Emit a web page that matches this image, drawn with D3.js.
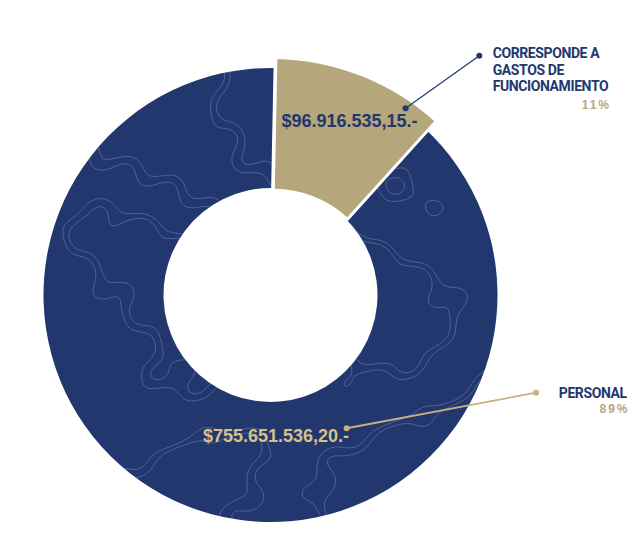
<!DOCTYPE html>
<html>
<head>
<meta charset="utf-8">
<script src="https://cdn.jsdelivr.net/npm/d3@7"></script>
<style>
  body { margin: 0; background: #fff; }
  svg { display: block; }
</style>
</head>
<body>
<div id="chart"></div>
<script>
// datos del presupuesto
var categories = ["Gastos de funcionamiento", "Personal"];
var legendLines = [["CORRESPONDE A", "GASTOS DE", "FUNCIONAMIENTO"], ["PERSONAL"]];
var amounts = [96916535.15, 755651536.20];

// layout
var width = 629, height = 541;
var cx = 270.5, cy = 295;
var rInner = 107, rOuter = 227;
var explode = {dx: 0.5, dy: 9, scale: 1.08};   // sector destacado
var rot = 1.15 * Math.PI / 180;
var fills = ["#b5a67b", "#22376e"];
var amountColor = ["#22376e", "#d6c088"];
var leaderColor = ["#22376e", "#c8b27c"];
var pctColor = "#b8a67c";
// posiciones en polares: fraccion del angulo del sector y radio
var amountPos = [{f: 0.557, r: 193.3}, {f: 0.4256, r: 146.8}];
var dotPos = [{f: 0.815, r: 237.6}, {f: 0.339, r: 153.5}];
var legendPos = [
  {x: 492.7, y: 58.3, anchor: "start", lx: 479.3, ly: 55.7, pctDy: 17.6},
  {x: 626.7, y: 398.3, anchor: "end", lx: 536, ly: 392.7, pctDy: 15}
];

var locale = d3.formatLocale({decimal: ",", thousands: ".", grouping: [3], currency: ["$", ""]});
var fmtAmount = function(v) { return locale.format("$,.2f")(v) + ".-"; };
var fmtPct = d3.format(".0%");
var total = d3.sum(amounts);

var svg = d3.select("#chart").append("svg")
    .attr("width", width)
    .attr("height", height);

var pie = d3.pie().sort(null).value(function(d) { return d; })
    .startAngle(rot).endAngle(rot + 2 * Math.PI);
var arcs = pie(amounts);

var arcNavy = d3.arc().innerRadius(rInner).outerRadius(rOuter).padAngle(0.012);
var arcTan = d3.arc()
    .innerRadius(rInner * explode.scale - 1.5)
    .outerRadius(rOuter * explode.scale + 1.5);

function centerOf(i) {
  return i === 0 ? [cx + explode.dx, cy + explode.dy] : [cx, cy];
}
function polar(d, p) {
  var a = d.startAngle + p.f * (d.endAngle - d.startAngle);
  var c = centerOf(d.index);
  return [c[0] + p.r * Math.sin(a), c[1] - p.r * Math.cos(a)];
}

// clip para la textura
svg.append("defs").append("clipPath").attr("id", "navyClip")
  .append("path")
    .attr("transform", "translate(" + cx + "," + cy + ")")
    .attr("d", arcNavy(arcs[1]));

// sector grande
svg.append("path")
    .attr("transform", "translate(" + cx + "," + cy + ")")
    .attr("d", arcNavy(arcs[1]))
    .attr("fill", fills[1]);

// textura decorativa (curvas de nivel), solo adorno
var cell = 3, gw = 215, gh = 185;
var field = new Array(gw * gh);
for (var j = 0; j < gh; j++) {
  for (var i = 0; i < gw; i++) {
    var x = i * cell, y = j * cell;
    field[j * gw + i] = Math.sin(x / 55 + 2.2 * Math.sin(y / 70))
      + 0.8 * Math.cos(y / 60 + 1.6 * Math.sin(x / 90))
      + 0.16 * Math.sin(x / 9 + y / 13) + 0.12 * Math.cos(y / 8 - x / 17);
  }
}
var contours = d3.contours().size([gw, gh]).thresholds([-1.0, -0.75, 0.85, 1.1])(field);
svg.append("g")
    .attr("clip-path", "url(#navyClip)")
  .selectAll("path")
  .data(contours)
  .join("path")
    .attr("d", d3.geoPath(d3.geoIdentity().scale(cell)))
    .attr("fill", "none")
    .attr("stroke", "#8593bb")
    .attr("stroke-opacity", 0.6)
    .attr("stroke-width", 0.8);

// sector destacado
svg.append("path")
    .attr("transform", "translate(" + centerOf(0)[0] + "," + centerOf(0)[1] + ")")
    .attr("d", arcTan(arcs[0]))
    .attr("fill", fills[0])
    .attr("stroke", "#fff")
    .attr("stroke-width", 3);

// montos
svg.selectAll(".amount")
  .data(arcs)
  .join("text")
    .attr("class", "amount")
    .attr("x", function(d) { return polar(d, amountPos[d.index])[0]; })
    .attr("y", function(d) { return polar(d, amountPos[d.index])[1]; })
    .attr("text-anchor", "middle")
    .attr("font-family", "Liberation Sans, Arial, sans-serif")
    .attr("font-weight", "bold")
    .attr("font-size", 18)
    .attr("fill", function(d) { return amountColor[d.index]; })
    .text(function(d) { return fmtAmount(d.value); });

// lineas guia y leyendas
arcs.forEach(function(d) {
  var p = polar(d, dotPos[d.index]);
  var L = legendPos[d.index];
  svg.append("line")
      .attr("x1", p[0]).attr("y1", p[1])
      .attr("x2", L.lx).attr("y2", L.ly)
      .attr("stroke", leaderColor[d.index])
      .attr("stroke-width", d.index === 0 ? 1.2 : 1.8);
  svg.append("circle").attr("cx", p[0]).attr("cy", p[1]).attr("r", 3)
      .attr("fill", leaderColor[d.index]);
  svg.append("circle").attr("cx", L.lx).attr("cy", L.ly).attr("r", 3)
      .attr("fill", leaderColor[d.index]);

  var g = svg.append("g");
  var t = g.append("text")
      .attr("font-family", "Roboto, sans-serif")
      .attr("font-weight", "bold")
      .attr("font-size", 14)
      .attr("letter-spacing", -0.4)
      .attr("fill", "#22376e")
      .attr("text-anchor", L.anchor);
  legendLines[d.index].forEach(function(s, k) {
    t.append("tspan").attr("x", L.x).attr("y", L.y + k * 16.3).text(s);
  });
  var bb = t.node().getBBox();
  g.append("text")
      .attr("x", bb.x + bb.width + 2)
      .attr("y", L.y + (legendLines[d.index].length - 1) * 16.3 + L.pctDy)
      .attr("text-anchor", "end")
      .attr("font-family", "Liberation Sans, Arial, sans-serif")
      .attr("font-weight", "bold")
      .attr("font-size", 12)
      .attr("letter-spacing", 2)
      .attr("fill", pctColor)
      .text(fmtPct(d.value / total));
});
</script>
</body>
</html>
